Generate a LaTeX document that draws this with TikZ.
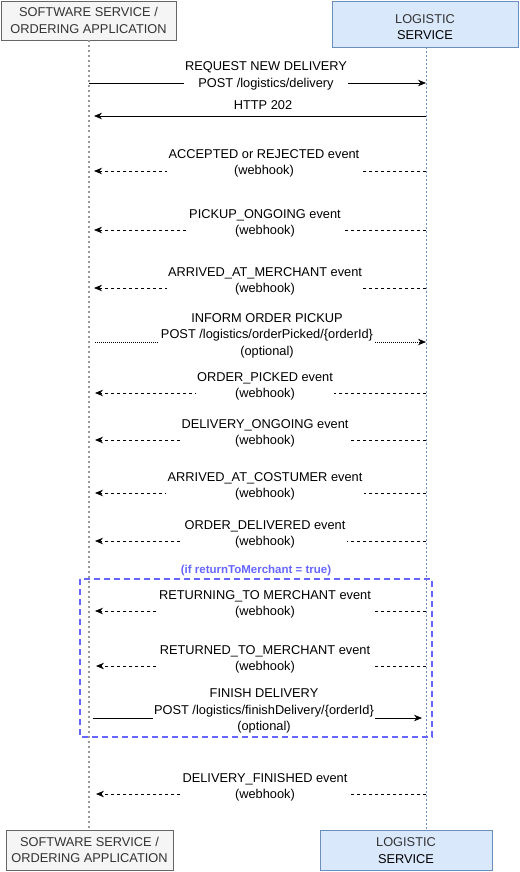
\documentclass[tikz,border=0pt]{standalone}
\usepackage{fontspec}
\setmainfont{Liberation Sans}
\usetikzlibrary{arrows.meta}
\definecolor{grayfill}{HTML}{F5F5F5}
\definecolor{graystroke}{HTML}{666666}
\definecolor{bluefill}{HTML}{DAE8FC}
\definecolor{bluestroke}{HTML}{6C8EBF}
\definecolor{txt}{HTML}{333333}
\definecolor{framecol}{HTML}{6666FF}
\begin{document}
\begin{tikzpicture}[x=1pt,y=-1pt,
  every node/.style={font=\fontsize{12.8}{16.5}\selectfont, text=txt},
  graybox/.style={draw=graystroke, fill=grayfill, align=center, inner sep=0pt},
  bluebox/.style={draw=bluestroke, fill=bluefill, align=center, inner sep=0pt},
  lbl/.style={fill=white, align=center, inner sep=1.5pt, text=black},
  tip/.style={-{Stealth[length=8pt,width=6.5pt]}},
  msg/.style={tip, line width=0.8pt},
  ev/.style={tip, line width=0.8pt, dash pattern=on 3pt off 3pt},
  dotmsg/.style={tip, line width=0.8pt, dash pattern=on 1pt off 1pt},
  lifeA/.style={draw=black!40, line width=1.5pt, dash pattern=on 2pt off 3pt},
  lifeB/.style={draw=bluestroke, line width=1pt, dash pattern=on 2pt off 2pt}
]
\useasboundingbox (0,0) rectangle (519,872);

% participants
\node[graybox, minimum width=175pt, minimum height=39pt] (swT) at (88.5,20.5) {SOFTWARE SERVICE /\\ORDERING APPLICATION};
\node[bluebox, minimum width=186pt, minimum height=46pt,
  label={[align=center, yshift=-3pt]center:LOGISTIC\\\textcolor{black}{SERVICE}}] (lgT) at (425,24) {};
\node[graybox, minimum width=167pt, minimum height=40pt] (swB) at (89.5,850) {SOFTWARE SERVICE /\\ORDERING APPLICATION};
\node[bluebox, minimum width=172pt, minimum height=40pt] (lgB) at (406,850.5) {LOGISTIC\\\textcolor{black}{SERVICE}};

% lifelines
\coordinate (la1) at (89,40.5);
\coordinate (la2) at (89,830);
\coordinate (lb1) at (426,47);
\coordinate (lb2) at (426,830);
\draw[lifeA] (la1) -- (la2);
\draw[lifeB] (lb1) -- (lb2);

% return frame
\node[text=framecol, font=\fontsize{11.5}{13}\selectfont\bfseries] (cond) at (256,570.5) {(if returnToMerchant = true)};
\draw[framecol, line width=1.5pt, dash pattern=on 6pt off 4pt] (80,579) rectangle (432,737);

% 1
\coordinate (s1) at (89,83); \coordinate (e1) at (426,83);
\draw[msg] (s1) -- (e1);
\node[lbl] (m1) at (266,76) {REQUEST NEW DELIVERY\\POST /logistics/delivery};
% 2
\coordinate (s2) at (426,116); \coordinate (e2) at (94,116);
\draw[msg] (s2) -- (e2);
\node[lbl] (m2) at (263,105.5) {HTTP 202};
% 3
\coordinate (s3) at (426,171); \coordinate (e3) at (94,171);
\draw[ev] (s3) -- (e3);
\node[lbl] (m3) at (264,163.5) {ACCEPTED or REJECTED event\\(webhook)};
% 4
\coordinate (s4) at (426,230); \coordinate (e4) at (94,230);
\draw[ev] (s4) -- (e4);
\node[lbl] (m4) at (265,223.5) {PICKUP\_ONGOING event\\(webhook)};
% 5
\coordinate (s5) at (426,288); \coordinate (e5) at (94,288);
\draw[ev] (s5) -- (e5);
\node[lbl] (m5) at (265,281.5) {ARRIVED\_AT\_MERCHANT event\\(webhook)};
% 6
\coordinate (s6) at (95,342); \coordinate (e6) at (426,342);
\draw[dotmsg] (s6) -- (e6);
\node[lbl] (m6) at (267,335.5) {INFORM ORDER PICKUP\\POST /logistics/orderPicked/\{orderId\}\\(optional)};
% 7
\coordinate (s7) at (426,393); \coordinate (e7) at (95,393);
\draw[ev] (s7) -- (e7);
\node[lbl] (m7) at (265,386.5) {ORDER\_PICKED event\\(webhook)};
% 8
\coordinate (s8) at (426,440); \coordinate (e8) at (95,440);
\draw[ev] (s8) -- (e8);
\node[lbl] (m8) at (265,433.5) {DELIVERY\_ONGOING event\\(webhook)};
% 9
\coordinate (s9) at (426,493); \coordinate (e9) at (95,493);
\draw[ev] (s9) -- (e9);
\node[lbl] (m9) at (265,486.5) {ARRIVED\_AT\_COSTUMER event\\(webhook)};
% 10
\coordinate (s10) at (426,541); \coordinate (e10) at (95,541);
\draw[ev] (s10) -- (e10);
\node[lbl] (m10) at (265,534.5) {ORDER\_DELIVERED event\\(webhook)};
% 11
\coordinate (s11) at (426,611); \coordinate (e11) at (95,611);
\draw[ev] (s11) -- (e11);
\node[lbl] (m11) at (265,604.5) {RETURNING\_TO MERCHANT event\\(webhook)};
% 12
\coordinate (s12) at (426,666); \coordinate (e12) at (96,666);
\draw[ev] (s12) -- (e12);
\node[lbl] (m12) at (265,659.5) {RETURNED\_TO\_MERCHANT event\\(webhook)};
% 13
\coordinate (s13) at (93,718); \coordinate (e13) at (422,718);
\draw[msg] (s13) -- (e13);
\node[lbl] (m13) at (264,711) {FINISH DELIVERY\\POST /logistics/finishDelivery/\{orderId\}\\(optional)};
% 14
\coordinate (s14) at (426,794); \coordinate (e14) at (96,794);
\draw[ev] (s14) -- (e14);
\node[lbl] (m14) at (265,787.5) {DELIVERY\_FINISHED event\\(webhook)};
\end{tikzpicture}
\end{document}
